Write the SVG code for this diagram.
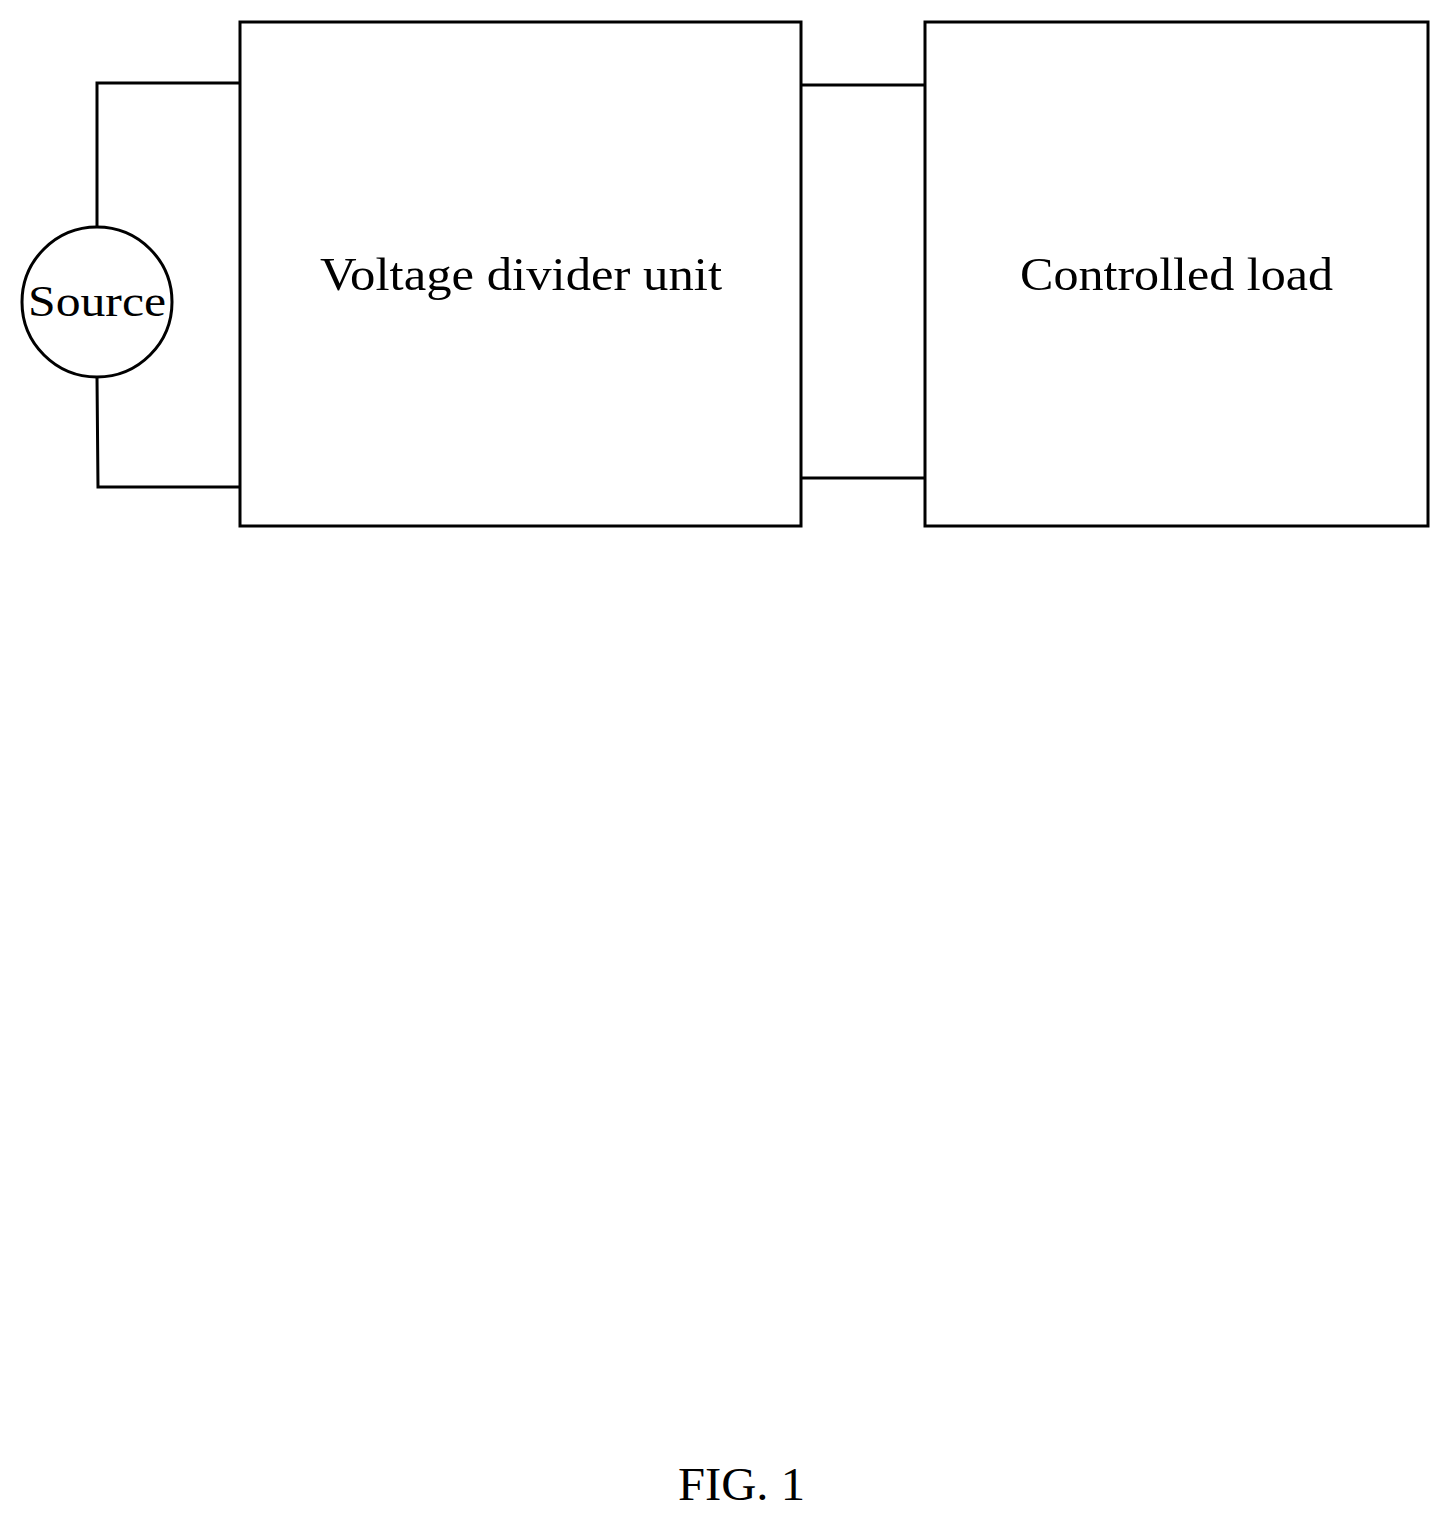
<svg xmlns="http://www.w3.org/2000/svg" width="1451" height="1521" viewBox="0 0 1451 1521">
<style>
.s{fill:none;stroke:#000;stroke-width:3}
text{font-family:"Liberation Serif",serif;fill:#000}
</style>
<rect width="1451" height="1521" fill="#fff"/>
<g id="connectors">
<path class="s" d="M97 227 L97 83 L240 83"/>
<path class="s" d="M97 377 L98 487 L240 487"/>
<path class="s" d="M801 85 L925 85"/>
<path class="s" d="M801 478 L925 478"/>
</g>
<g id="source"><circle class="s" cx="97" cy="302" r="75"/><text x="28" y="316" font-size="44" textLength="138" lengthAdjust="spacingAndGlyphs">Source</text></g>
<g id="divider"><rect class="s" x="240" y="22" width="561" height="504"/><text x="320" y="290" font-size="46" textLength="402" lengthAdjust="spacingAndGlyphs">Voltage divider unit</text></g>
<g id="load"><rect class="s" x="925" y="22" width="503" height="504"/><text x="1020" y="290" font-size="46" textLength="313" lengthAdjust="spacingAndGlyphs">Controlled load</text></g>
<text x="678" y="1500" font-size="46" textLength="127" lengthAdjust="spacingAndGlyphs">FIG. 1</text>
</svg>
